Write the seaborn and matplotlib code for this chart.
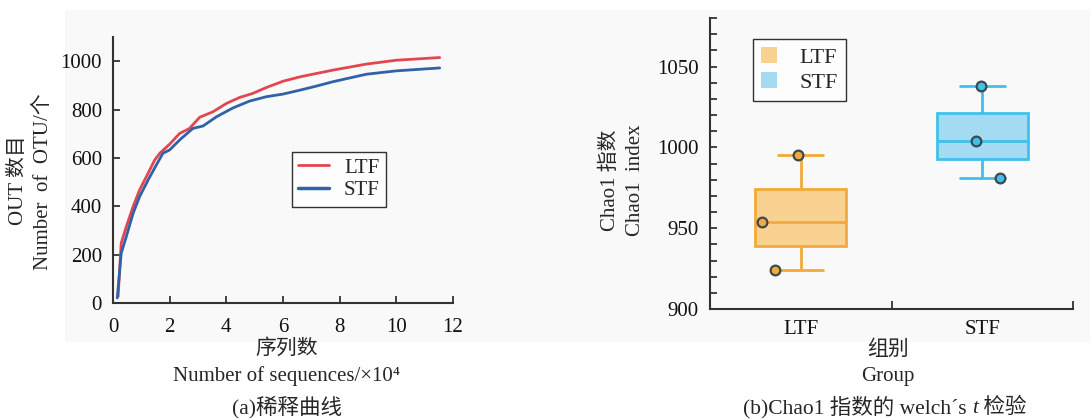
import numpy as np
import pandas as pd
import matplotlib
matplotlib.use("Agg")
import matplotlib.pyplot as plt
from matplotlib.patches import Rectangle, Patch
from matplotlib.lines import Line2D
from matplotlib.offsetbox import TextArea, HPacker, AnchoredOffsetbox
import seaborn as sns

# ---------------- data ----------------
ltf_seq = [0.18, 0.29, 0.47, 0.71, 0.94, 1.18, 1.47, 1.65, 2.0, 2.35, 2.7, 3.06,
           3.53, 4.0, 4.47, 4.94, 5.41, 6.0, 6.59, 7.76, 8.94, 10.0, 11.53]
ltf_otu = [27, 248, 316, 399, 468, 523, 591, 619, 657, 701, 722, 768,
           791, 825, 850, 867, 891, 917, 935, 963, 988, 1004, 1015]
stf_seq = [0.15, 0.29, 0.47, 0.71, 0.94, 1.24, 1.53, 1.76, 2.0, 2.35, 2.82, 3.18,
           3.65, 4.24, 4.82, 5.41, 6.0, 6.59, 7.18, 7.76, 8.94, 10.0, 11.53]
stf_otu = [21, 206, 275, 371, 440, 509, 571, 619, 633, 674, 722, 732,
           770, 807, 835, 853, 864, 880, 897, 915, 946, 960, 972]

groups = ["LTF", "STF"]
chao1_ltf = [924, 954, 995]
chao1_stf = [981, 1004, 1038]

x_ticks = [0, 2, 4, 6, 8, 10, 12]
y_ticks_a = [0, 200, 400, 600, 800, 1000]
y_ticks_b = [900, 950, 1000, 1050]

# ---------------- style ----------------
sns.set_style("ticks")
SERIF = ["Liberation Serif", "Noto Sans CJK SC"]
plt.rcParams["font.family"] = SERIF
plt.rcParams["axes.unicode_minus"] = False

RED = "#e2474f"
BLUE = "#2f62a8"
ORANGE_FILL = "#f9d291"
ORANGE_EDGE = "#f2aa3a"
CYAN_FILL = "#a5daf3"
CYAN_EDGE = "#40c0ea"
AX_COLOR = "#333333"

fig = plt.figure(figsize=(10.9, 4.2), dpi=100)
fig.patch.set_facecolor("white")
fig.patches.append(Rectangle((65 / 1090, 1 - 342 / 420), (1090 - 65) / 1090, 332 / 420,
                             transform=fig.transFigure, facecolor="#f9f9f9",
                             edgecolor="none", zorder=-10))

# ---------------- panel (a) ----------------
ax1 = fig.add_axes([113 / 1090, 1 - 303 / 420, 340 / 1090, 266 / 420])
ax1.set_facecolor("none")
df_a = pd.concat([
    pd.DataFrame({"seq": ltf_seq, "otu": ltf_otu, "group": "LTF"}),
    pd.DataFrame({"seq": stf_seq, "otu": stf_otu, "group": "STF"}),
])
sns.lineplot(data=df_a, x="seq", y="otu", hue="group", palette={"LTF": RED, "STF": BLUE},
             linewidth=2, ax=ax1, legend=False, sort=False, estimator=None)
ax1.set_xlim(0, 12)
ax1.set_ylim(0, 1100)
ax1.set_xticks(x_ticks)
ax1.set_yticks(y_ticks_a)
ax1.set_xlabel("")
ax1.set_ylabel("")
for s in ["top", "right"]:
    ax1.spines[s].set_visible(False)
for s in ["left", "bottom"]:
    ax1.spines[s].set_color(AX_COLOR)
    ax1.spines[s].set_linewidth(1.5)
ax1.tick_params(direction="in", length=5, width=1.3, color=AX_COLOR,
                labelsize=15, labelcolor="#111111", pad=8)
ax1.tick_params(axis="x", pad=11)
handles = [Line2D([], [], color=RED, lw=2), Line2D([], [], color=BLUE, lw=2.5)]
leg = ax1.legend(handles, groups, loc="upper left", bbox_to_anchor=(0.526, 0.568),
                 frameon=True, fancybox=False, edgecolor="black", fontsize=15,
                 handlelength=1.5, borderpad=0.3, labelspacing=0.15, handletextpad=0.7,
                 borderaxespad=0)
leg.get_frame().set_linewidth(1.0)
leg.get_frame().set_facecolor("white")

fig.text(18 / 1090, 1 - 180 / 420, "OUT 数目", rotation=90, ha="center", va="center",
         fontsize=15, family=SERIF)
fig.text(43 / 1090, 1 - 182 / 420, "Number  of  OTU/个", rotation=90, ha="center",
         va="center", fontsize=15, family=SERIF)
fig.text(287 / 1090, 1 - 349 / 420, "序列数", ha="center", va="center", fontsize=15,
         family=SERIF)
fig.text(287 / 1090, 1 - 376 / 420, "Number of sequences/×10⁴", ha="center",
         va="center", fontsize=15, family=SERIF)
fig.text(287 / 1090, 1 - 407 / 420, "(a)稀释曲线", ha="center", va="center",
         fontsize=15.5, family=SERIF)

# ---------------- panel (b) ----------------
ax2 = fig.add_axes([710 / 1090, 1 - 309 / 420, 363 / 1090, 291 / 420])
ax2.set_facecolor("none")
df_b = pd.concat([
    pd.DataFrame({"group": "LTF", "chao1": chao1_ltf}),
    pd.DataFrame({"group": "STF", "chao1": chao1_stf}),
])
np.random.seed(11)
for g, fc, ec in [("LTF", ORANGE_FILL, ORANGE_EDGE), ("STF", CYAN_FILL, CYAN_EDGE)]:
    sub = df_b[df_b["group"] == g]
    sns.boxplot(data=sub, x="group", y="chao1", order=groups, color=fc, linecolor=ec,
                saturation=1, width=0.5, whis=np.inf, showfliers=False, linewidth=2,
                ax=ax2)
    sns.stripplot(data=sub, x="group", y="chao1", order=groups, color=ec,
                  edgecolor="#3b4a4f", linewidth=1.6, size=7, jitter=0.22, ax=ax2)
ax2.set_xlim(-0.5, 1.5)
ax2.set_ylim(900, 1080)
ax2.set_yticks(y_ticks_b)
ax2.set_yticks(np.arange(900, 1081, 10), minor=True)
ax2.set_xticks([0, 1])
ax2.set_xticklabels(groups)
ax2.set_xticks([0.5, 1.5], minor=True)
ax2.set_xlabel("")
ax2.set_ylabel("")
for s in ["top", "right"]:
    ax2.spines[s].set_visible(False)
for s in ["left", "bottom"]:
    ax2.spines[s].set_color(AX_COLOR)
    ax2.spines[s].set_linewidth(1.5)
ax2.tick_params(axis="y", which="both", direction="in", length=5, width=1.3,
                color=AX_COLOR, labelsize=15, labelcolor="#111111", pad=8)
ax2.tick_params(axis="x", which="major", length=0, labelsize=15, labelcolor="#111111",
                pad=8)
ax2.tick_params(axis="x", which="minor", direction="in", length=6, width=1.3,
                color=AX_COLOR)
phandles = [Patch(facecolor=ORANGE_FILL, edgecolor="none"),
            Patch(facecolor=CYAN_FILL, edgecolor="none")]
leg2 = ax2.legend(phandles, groups, loc="upper left", bbox_to_anchor=(0.118, 0.928),
                  frameon=True, fancybox=False, edgecolor="black", fontsize=16,
                  handlelength=0.75, handleheight=0.75, borderpad=0.35, labelspacing=0.2,
                  handletextpad=1.0, borderaxespad=0)
leg2.get_frame().set_linewidth(1.0)
leg2.get_frame().set_facecolor("white")

fig.text(610 / 1090, 1 - 180 / 420, "Chao1 指数", rotation=90, ha="center", va="center",
         fontsize=15, family=SERIF)
fig.text(635 / 1090, 1 - 180 / 420, "Chao1  index", rotation=90, ha="center",
         va="center", fontsize=15, family=SERIF)
fig.text(888 / 1090, 1 - 350 / 420, "组别", ha="center", va="center", fontsize=15,
         family=SERIF)
fig.text(888 / 1090, 1 - 377 / 420, "Group", ha="center", va="center", fontsize=15,
         family=SERIF)

cap_parts = [
    TextArea("(b)Chao1 指数的 welch´s ", textprops=dict(fontsize=15.5, family=SERIF)),
    TextArea("t", textprops=dict(fontsize=15.5, family=SERIF, style="italic")),
    TextArea(" 检验", textprops=dict(fontsize=15.5, family=SERIF)),
]
pack = HPacker(children=cap_parts, align="baseline", pad=0, sep=0)
anch = AnchoredOffsetbox(loc="center", child=pack, frameon=False,
                         bbox_to_anchor=(885 / 1090, 1 - 407 / 420),
                         bbox_transform=fig.transFigure, borderpad=0, pad=0)
fig.add_artist(anch)

fig.savefig("out.png", dpi=100, facecolor="white")
